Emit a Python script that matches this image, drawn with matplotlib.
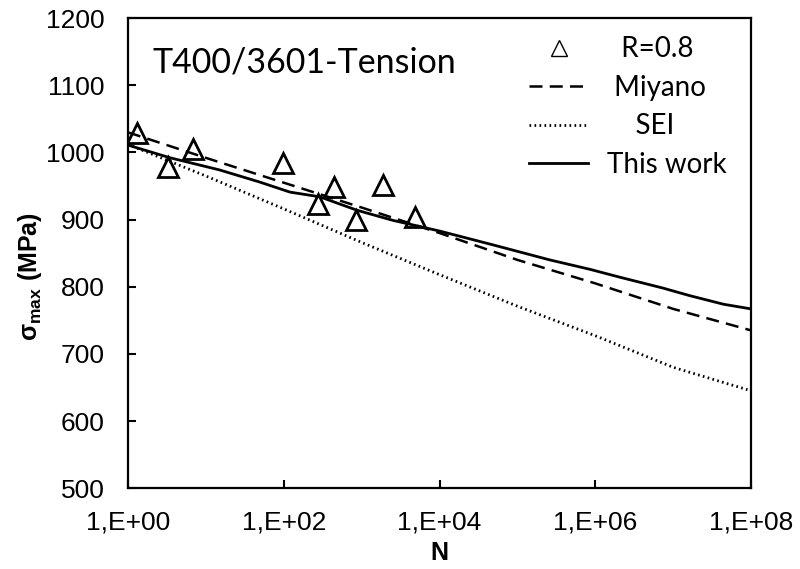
import numpy as np
import matplotlib
matplotlib.use('Agg')
import matplotlib.pyplot as plt
from matplotlib.ticker import FixedLocator, NullLocator

plt.rcParams['font.family'] = ['Liberation Sans', 'DejaVu Sans']
plt.rcParams['mathtext.default'] = 'regular'

# 试验数据 (R=0.8)
N_test = [1.3, 3.3, 6.8, 98, 275, 440, 850, 1880, 4800]
S_test = [1029, 978, 1005, 984, 924, 948, 899, 952, 904]

# Miyano 模型
N_miyano = [1, 1e1, 1e2, 1e3, 1e4, 1e5, 1e6, 1e7, 1e8]
S_miyano = [1030, 992, 955, 918, 880, 840, 805, 767, 735]

# SEI 模型
N_sei = [1, 1e1, 1e2, 1e3, 1e4, 1e5, 1e6, 1e7, 1e8]
S_sei = [1012, 965, 916, 866, 818, 771, 727, 680, 645]

# 本文模型
N_this = [1, 3.5, 15, 49, 120, 290, 870, 2500, 1e4, 5e4, 2.6e5, 8.5e5,
          2.1e6, 7.4e6, 1.6e7, 4.4e7, 1e8]
S_this = [1011, 992, 974, 956, 941, 934, 914, 899, 883, 862, 840, 826,
          814, 798, 787, 774, 767]

x_ticks = [1, 1e2, 1e4, 1e6, 1e8]
x_ticklabels = ['1,E+00', '1,E+02', '1,E+04', '1,E+06', '1,E+08']
y_ticks = [500, 600, 700, 800, 900, 1000, 1100, 1200]

fig = plt.figure(figsize=(8, 5.69), dpi=100)
ax = fig.add_axes([0.16, 0.142, 0.779, 0.826])

ax.plot(N_test, S_test, linestyle='none', marker='^', markersize=15,
        markerfacecolor='white', markeredgecolor='black', markeredgewidth=2.0,
        label='  R=0.8')
ax.plot(N_miyano, S_miyano, color='black', linewidth=1.8, dashes=(5.2, 2.9),
        label=' Miyano')
ax.plot(N_sei, S_sei, color='black', linewidth=2.0, dashes=(0.6, 1.2),
        label='    SEI')
ax.plot(N_this, S_this, color='black', linewidth=2.0, label='This work')

ax.set_xscale('log')
ax.set_xlim(1, 1e8)
ax.set_ylim(500, 1200)
ax.xaxis.set_major_locator(FixedLocator(x_ticks))
ax.xaxis.set_minor_locator(NullLocator())
ax.set_xticklabels(x_ticklabels)
ax.set_yticks(y_ticks)

ax.tick_params(axis='both', direction='in', length=6, width=1.5,
               labelsize=19)
ax.tick_params(axis='y', pad=17)
ax.tick_params(axis='x', pad=16)
for s in ax.spines.values():
    s.set_linewidth(1.6)

ax.set_xlabel('N', fontsize=18, fontweight='bold', labelpad=5)
ax.set_ylabel(r'σ$_{\mathregular{max}}$ (MPa)', fontsize=18, fontweight='bold')
ax.yaxis.set_label_coords(-0.135, 0.45)

ax.text(0.04, 0.885, 'T400/3601-Tension', transform=ax.transAxes,
        fontsize=24.5, family=['Lato', 'DejaVu Sans'], va='baseline')

leg = ax.legend(loc='upper right', bbox_to_anchor=(0.99, 1.0), frameon=False,
                prop={'family': ['Lato', 'DejaVu Sans'], 'size': 20},
                handlelength=2.1, handletextpad=0.7, labelspacing=0.45,
                borderaxespad=0.25)
leg.legend_handles[0].set_markersize(11)
leg.legend_handles[0].set_markeredgewidth(1.0)

fig.savefig('out.png', dpi=100)
